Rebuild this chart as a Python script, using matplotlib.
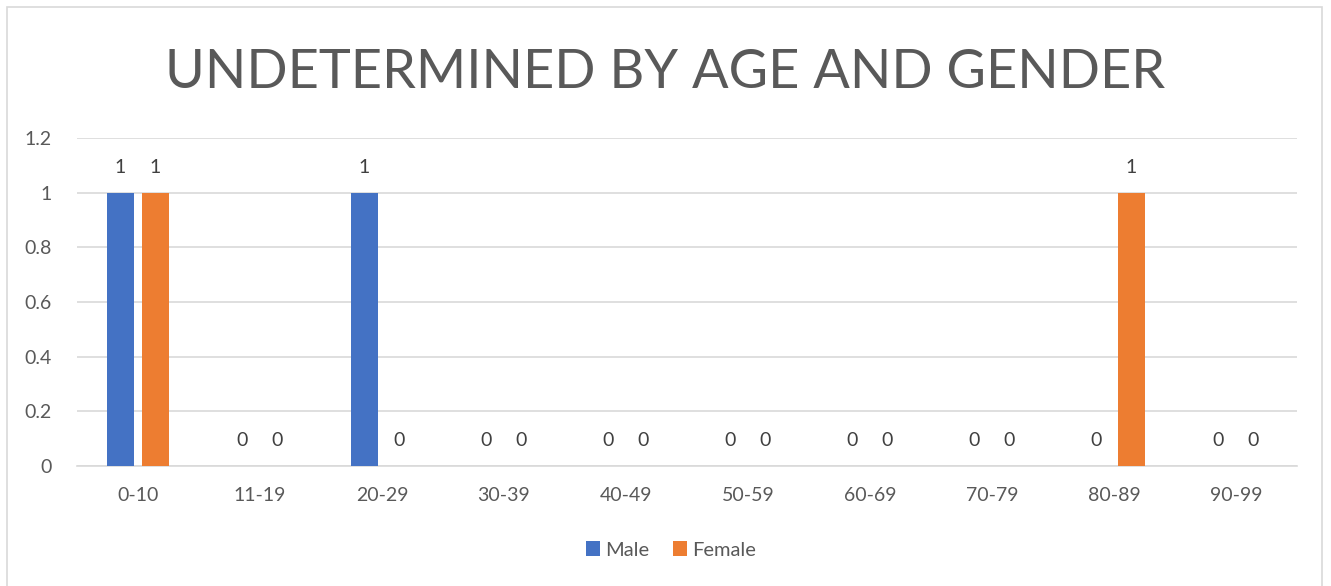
import numpy as np
import matplotlib.pyplot as plt
from matplotlib.patches import Rectangle

plt.rcParams['font.family'] = ['Lato', 'DejaVu Sans']

# ----------------------------
# Data
# ----------------------------
ages = ['0-10', '11-19', '20-29', '30-39', '40-49', '50-59', '60-69', '70-79', '80-89', '90-99']
male = [1, 0, 1, 0, 0, 0, 0, 0, 0, 0]
female = [1, 0, 0, 0, 0, 0, 0, 0, 1, 0]

textColour = '#595959'
gridColour = '#D9D9D9'

fig = plt.figure(figsize=(13.31, 5.86), dpi=100)
ax = fig.add_axes([77/1331, 1 - 466/586, 1220/1331, 328/586])

x = np.arange(len(ages))
w = 0.22
off = 0.143
b1 = ax.bar(x - off, male, w, color='#4472C4', label='Male', zorder=3)
b2 = ax.bar(x + off, female, w, color='#ED7D31', label='Female', zorder=3)

for bars in (b1, b2):
    for rect in bars:
        h = rect.get_height()
        ax.annotate('%d' % h, (rect.get_x() + rect.get_width()/2, h),
                    xytext=(0, 18), textcoords='offset points', ha='center', va='center',
                    fontsize=14, color='#404040')

ax.set_xlim(-0.5, len(ages) - 0.5)
ax.set_ylim(0, 1.2)
ax.set_yticks([0, 0.2, 0.4, 0.6, 0.8, 1, 1.2])
ax.set_yticklabels(['0', '0.2', '0.4', '0.6', '0.8', '1', '1.2'])
ax.set_xticks(x)
ax.set_xticklabels(ages)
ax.tick_params(axis='both', length=0, labelsize=14, labelcolor=textColour)
ax.tick_params(axis='y', pad=18)
ax.tick_params(axis='x', pad=15)
ax.yaxis.grid(True, color=gridColour, linewidth=1.2, zorder=0)
for s in ['top', 'right', 'left']:
    ax.spines[s].set_visible(False)
ax.spines['bottom'].set_color(gridColour)
ax.spines['bottom'].set_linewidth(1.2)

fig.text(0.5, 1 - 72/586, 'UNDETERMINED BY AGE AND GENDER', ha='center', va='center',
         fontsize=39, color=textColour)

ax.legend(loc='center', bbox_to_anchor=((671 - 77) / 1220, (466 - 550) / 328), ncol=2, frameon=False,
          fontsize=14.5, labelcolor=textColour, handlelength=0.7, handleheight=0.7,
          handletextpad=0.25, columnspacing=1.2)

# chart border
fig.patches.append(Rectangle((7/1331, -0.01), 1315/1331, 1 - 7/586 + 0.01, transform=fig.transFigure,
                             fill=False, edgecolor='#D9D9D9', linewidth=1.2))

plt.savefig('out.png', dpi=100)
